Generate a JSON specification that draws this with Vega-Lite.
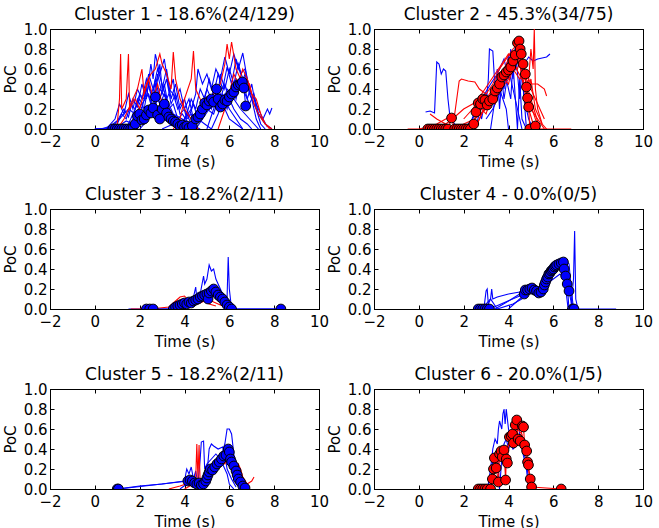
{
"$schema": "https://vega.github.io/schema/vega-lite/v6.json",
"padding": {"left": 2, "top": 5, "right": 5, "bottom": 5},
"background": "white",
"config": {
  "view": {"stroke": "black", "strokeWidth": 1},
  "title": {"font": "DejaVu Sans", "fontSize": 17, "fontWeight": "normal", "color": "black", "offset": -2, "anchor": "middle"},
  "axis": {"domainColor": "black", "tickColor": "black", "labelColor": "black", "titleColor": "black", "labelFont": "DejaVu Sans", "titleFont": "DejaVu Sans", "labelFontSize": 15, "titleFontSize": 15, "titleFontWeight": "normal", "tickSize": -4, "grid": false, "labelFlush": false, "labelOverlap": false},
  "axisX": {"labelPadding": 9, "titlePadding": 5},
  "axisY": {"labelPadding": 7, "titlePadding": 5}
},
"datasets": {
"L": [
{"g":1,"s":"a","c":"b","t":0.0,"p":0.0},{"g":1,"s":"a","c":"b","t":0.5,"p":0.0},{"g":1,"s":"a","c":"b","t":0.8,"p":0.02},{"g":1,"s":"a","c":"b","t":1.0,"p":0.05},{"g":1,"s":"a","c":"b","t":1.2,"p":0.15},{"g":1,"s":"a","c":"b","t":1.4,"p":0.1},{"g":1,"s":"a","c":"b","t":1.6,"p":0.25},{"g":1,"s":"a","c":"b","t":1.8,"p":0.2},{"g":1,"s":"a","c":"b","t":2.0,"p":0.35},{"g":1,"s":"a","c":"b","t":2.2,"p":0.3},{"g":1,"s":"a","c":"b","t":2.4,"p":0.55},{"g":1,"s":"a","c":"b","t":2.6,"p":0.4},{"g":1,"s":"a","c":"b","t":2.8,"p":0.6},{"g":1,"s":"a","c":"b","t":3.0,"p":0.45},{"g":1,"s":"a","c":"b","t":3.2,"p":0.3},{"g":1,"s":"a","c":"b","t":3.4,"p":0.15},{"g":1,"s":"a","c":"b","t":3.6,"p":0.1},{"g":1,"s":"a","c":"b","t":3.8,"p":0.05},{"g":1,"s":"a","c":"b","t":4.0,"p":0.0},
{"g":1,"s":"b","c":"b","t":0.7,"p":0.0},{"g":1,"s":"b","c":"b","t":1.0,"p":0.08},{"g":1,"s":"b","c":"b","t":1.3,"p":0.2},{"g":1,"s":"b","c":"b","t":1.5,"p":0.12},{"g":1,"s":"b","c":"b","t":1.7,"p":0.3},{"g":1,"s":"b","c":"b","t":1.9,"p":0.22},{"g":1,"s":"b","c":"b","t":2.1,"p":0.45},{"g":1,"s":"b","c":"b","t":2.3,"p":0.3},{"g":1,"s":"b","c":"b","t":2.5,"p":0.65},{"g":1,"s":"b","c":"b","t":2.6,"p":0.5},{"g":1,"s":"b","c":"b","t":2.7,"p":0.75},{"g":1,"s":"b","c":"b","t":2.9,"p":0.55},{"g":1,"s":"b","c":"b","t":3.1,"p":0.7},{"g":1,"s":"b","c":"b","t":3.3,"p":0.4},{"g":1,"s":"b","c":"b","t":3.5,"p":0.35},{"g":1,"s":"b","c":"b","t":3.7,"p":0.2},{"g":1,"s":"b","c":"b","t":3.9,"p":0.28},{"g":1,"s":"b","c":"b","t":4.1,"p":0.1},{"g":1,"s":"b","c":"b","t":4.3,"p":0.15},{"g":1,"s":"b","c":"b","t":4.5,"p":0.02},{"g":1,"s":"b","c":"b","t":4.7,"p":0.0},
{"g":1,"s":"c","c":"b","t":3.0,"p":0.0},{"g":1,"s":"c","c":"b","t":3.5,"p":0.05},{"g":1,"s":"c","c":"b","t":4.0,"p":0.1},{"g":1,"s":"c","c":"b","t":4.3,"p":0.2},{"g":1,"s":"c","c":"b","t":4.5,"p":0.35},{"g":1,"s":"c","c":"b","t":4.6,"p":0.6},{"g":1,"s":"c","c":"b","t":4.8,"p":0.45},{"g":1,"s":"c","c":"b","t":5.0,"p":0.55},{"g":1,"s":"c","c":"b","t":5.2,"p":0.4},{"g":1,"s":"c","c":"b","t":5.4,"p":0.6},{"g":1,"s":"c","c":"b","t":5.6,"p":0.5},{"g":1,"s":"c","c":"b","t":5.8,"p":0.72},{"g":1,"s":"c","c":"b","t":6.0,"p":0.55},{"g":1,"s":"c","c":"b","t":6.2,"p":0.75},{"g":1,"s":"c","c":"b","t":6.4,"p":0.6},{"g":1,"s":"c","c":"b","t":6.6,"p":0.76},{"g":1,"s":"c","c":"b","t":6.8,"p":0.5},{"g":1,"s":"c","c":"b","t":7.0,"p":0.3},{"g":1,"s":"c","c":"b","t":7.2,"p":0.1},{"g":1,"s":"c","c":"b","t":7.4,"p":0.0},
{"g":1,"s":"d","c":"b","t":4.5,"p":0.0},{"g":1,"s":"d","c":"b","t":4.8,"p":0.1},{"g":1,"s":"d","c":"b","t":5.0,"p":0.2},{"g":1,"s":"d","c":"b","t":5.3,"p":0.15},{"g":1,"s":"d","c":"b","t":5.5,"p":0.3},{"g":1,"s":"d","c":"b","t":5.7,"p":0.25},{"g":1,"s":"d","c":"b","t":5.9,"p":0.4},{"g":1,"s":"d","c":"b","t":6.1,"p":0.35},{"g":1,"s":"d","c":"b","t":6.3,"p":0.5},{"g":1,"s":"d","c":"b","t":6.5,"p":0.42},{"g":1,"s":"d","c":"b","t":6.7,"p":0.55},{"g":1,"s":"d","c":"b","t":6.9,"p":0.35},{"g":1,"s":"d","c":"b","t":7.1,"p":0.25},{"g":1,"s":"d","c":"b","t":7.3,"p":0.15},{"g":1,"s":"d","c":"b","t":7.5,"p":0.1},{"g":1,"s":"d","c":"b","t":7.7,"p":0.2},{"g":1,"s":"d","c":"b","t":7.8,"p":0.15},{"g":1,"s":"d","c":"b","t":7.9,"p":0.21},
{"g":1,"s":"e","c":"b","t":1.2,"p":0.0},{"g":1,"s":"e","c":"b","t":1.5,"p":0.05},{"g":1,"s":"e","c":"b","t":1.8,"p":0.1},{"g":1,"s":"e","c":"b","t":2.0,"p":0.05},{"g":1,"s":"e","c":"b","t":2.3,"p":0.2},{"g":1,"s":"e","c":"b","t":2.5,"p":0.15},{"g":1,"s":"e","c":"b","t":2.8,"p":0.3},{"g":1,"s":"e","c":"b","t":3.0,"p":0.2},{"g":1,"s":"e","c":"b","t":3.3,"p":0.35},{"g":1,"s":"e","c":"b","t":3.5,"p":0.5},{"g":1,"s":"e","c":"b","t":3.6,"p":0.3},{"g":1,"s":"e","c":"b","t":3.8,"p":0.4},{"g":1,"s":"e","c":"b","t":4.0,"p":0.2},{"g":1,"s":"e","c":"b","t":4.2,"p":0.3},{"g":1,"s":"e","c":"b","t":4.4,"p":0.1},{"g":1,"s":"e","c":"b","t":4.6,"p":0.2},{"g":1,"s":"e","c":"b","t":4.8,"p":0.15},{"g":1,"s":"e","c":"b","t":5.0,"p":0.3},{"g":1,"s":"e","c":"b","t":5.2,"p":0.2},{"g":1,"s":"e","c":"b","t":5.4,"p":0.35},{"g":1,"s":"e","c":"b","t":5.6,"p":0.3},{"g":1,"s":"e","c":"b","t":5.8,"p":0.45},{"g":1,"s":"e","c":"b","t":6.0,"p":0.3},{"g":1,"s":"e","c":"b","t":6.2,"p":0.2},{"g":1,"s":"e","c":"b","t":6.5,"p":0.1},{"g":1,"s":"e","c":"b","t":6.8,"p":0.05},{"g":1,"s":"e","c":"b","t":7.0,"p":0.0},
{"g":1,"s":"f","c":"b","t":0.0,"p":0.0},{"g":1,"s":"f","c":"b","t":0.6,"p":0.01},{"g":1,"s":"f","c":"b","t":1.0,"p":0.02},{"g":1,"s":"f","c":"b","t":1.4,"p":0.08},{"g":1,"s":"f","c":"b","t":1.7,"p":0.05},{"g":1,"s":"f","c":"b","t":2.0,"p":0.12},{"g":1,"s":"f","c":"b","t":2.2,"p":0.08},{"g":1,"s":"f","c":"b","t":2.5,"p":0.18},{"g":1,"s":"f","c":"b","t":2.8,"p":0.12},{"g":1,"s":"f","c":"b","t":3.0,"p":0.25},{"g":1,"s":"f","c":"b","t":3.3,"p":0.15},{"g":1,"s":"f","c":"b","t":3.6,"p":0.08},{"g":1,"s":"f","c":"b","t":4.0,"p":0.05},{"g":1,"s":"f","c":"b","t":4.3,"p":0.0},
{"g":1,"s":"g","c":"b","t":2.0,"p":0.0},{"g":1,"s":"g","c":"b","t":2.4,"p":0.1},{"g":1,"s":"g","c":"b","t":2.7,"p":0.35},{"g":1,"s":"g","c":"b","t":2.9,"p":0.65},{"g":1,"s":"g","c":"b","t":3.0,"p":0.4},{"g":1,"s":"g","c":"b","t":3.2,"p":0.6},{"g":1,"s":"g","c":"b","t":3.4,"p":0.3},{"g":1,"s":"g","c":"b","t":3.6,"p":0.45},{"g":1,"s":"g","c":"b","t":3.8,"p":0.2},{"g":1,"s":"g","c":"b","t":4.0,"p":0.3},{"g":1,"s":"g","c":"b","t":4.2,"p":0.12},{"g":1,"s":"g","c":"b","t":4.4,"p":0.25},{"g":1,"s":"g","c":"b","t":4.6,"p":0.1},{"g":1,"s":"g","c":"b","t":4.9,"p":0.05},{"g":1,"s":"g","c":"b","t":5.2,"p":0.0},
{"g":1,"s":"h","c":"b","t":5.0,"p":0.0},{"g":1,"s":"h","c":"b","t":5.3,"p":0.2},{"g":1,"s":"h","c":"b","t":5.5,"p":0.35},{"g":1,"s":"h","c":"b","t":5.6,"p":0.55},{"g":1,"s":"h","c":"b","t":5.8,"p":0.4},{"g":1,"s":"h","c":"b","t":6.0,"p":0.6},{"g":1,"s":"h","c":"b","t":6.2,"p":0.45},{"g":1,"s":"h","c":"b","t":6.4,"p":0.65},{"g":1,"s":"h","c":"b","t":6.6,"p":0.5},{"g":1,"s":"h","c":"b","t":6.8,"p":0.3},{"g":1,"s":"h","c":"b","t":7.0,"p":0.45},{"g":1,"s":"h","c":"b","t":7.2,"p":0.2},{"g":1,"s":"h","c":"b","t":7.4,"p":0.05},{"g":1,"s":"h","c":"b","t":7.6,"p":0.0},
{"g":1,"s":"i","c":"b","t":1.6,"p":0.0},{"g":1,"s":"i","c":"b","t":1.9,"p":0.3},{"g":1,"s":"i","c":"b","t":2.1,"p":0.2},{"g":1,"s":"i","c":"b","t":2.3,"p":0.4},{"g":1,"s":"i","c":"b","t":2.5,"p":0.25},{"g":1,"s":"i","c":"b","t":2.7,"p":0.5},{"g":1,"s":"i","c":"b","t":2.9,"p":0.3},{"g":1,"s":"i","c":"b","t":3.1,"p":0.45},{"g":1,"s":"i","c":"b","t":3.3,"p":0.2},{"g":1,"s":"i","c":"b","t":3.5,"p":0.25},{"g":1,"s":"i","c":"b","t":3.7,"p":0.1},{"g":1,"s":"i","c":"b","t":3.9,"p":0.15},{"g":1,"s":"i","c":"b","t":4.2,"p":0.05},{"g":1,"s":"i","c":"b","t":4.5,"p":0.1},{"g":1,"s":"i","c":"b","t":4.8,"p":0.25},{"g":1,"s":"i","c":"b","t":5.0,"p":0.4},{"g":1,"s":"i","c":"b","t":5.2,"p":0.3},{"g":1,"s":"i","c":"b","t":5.4,"p":0.45},{"g":1,"s":"i","c":"b","t":5.6,"p":0.35},{"g":1,"s":"i","c":"b","t":5.8,"p":0.2},{"g":1,"s":"i","c":"b","t":6.0,"p":0.1},{"g":1,"s":"i","c":"b","t":6.3,"p":0.05},{"g":1,"s":"i","c":"b","t":6.6,"p":0.0},
{"g":1,"s":"j","c":"b","t":0.5,"p":0.0},{"g":1,"s":"j","c":"b","t":0.9,"p":0.1},{"g":1,"s":"j","c":"b","t":1.1,"p":0.25},{"g":1,"s":"j","c":"b","t":1.3,"p":0.15},{"g":1,"s":"j","c":"b","t":1.5,"p":0.35},{"g":1,"s":"j","c":"b","t":1.7,"p":0.2},{"g":1,"s":"j","c":"b","t":1.9,"p":0.4},{"g":1,"s":"j","c":"b","t":2.1,"p":0.3},{"g":1,"s":"j","c":"b","t":2.3,"p":0.5},{"g":1,"s":"j","c":"b","t":2.5,"p":0.35},{"g":1,"s":"j","c":"b","t":2.7,"p":0.45},{"g":1,"s":"j","c":"b","t":2.9,"p":0.25},{"g":1,"s":"j","c":"b","t":3.1,"p":0.35},{"g":1,"s":"j","c":"b","t":3.3,"p":0.2},{"g":1,"s":"j","c":"b","t":3.6,"p":0.1},{"g":1,"s":"j","c":"b","t":4.0,"p":0.02},
{"g":1,"s":"k","c":"b","t":3.8,"p":0.0},{"g":1,"s":"k","c":"b","t":4.1,"p":0.15},{"g":1,"s":"k","c":"b","t":4.3,"p":0.3},{"g":1,"s":"k","c":"b","t":4.5,"p":0.2},{"g":1,"s":"k","c":"b","t":4.7,"p":0.4},{"g":1,"s":"k","c":"b","t":4.9,"p":0.3},{"g":1,"s":"k","c":"b","t":5.1,"p":0.5},{"g":1,"s":"k","c":"b","t":5.3,"p":0.35},{"g":1,"s":"k","c":"b","t":5.5,"p":0.55},{"g":1,"s":"k","c":"b","t":5.7,"p":0.4},{"g":1,"s":"k","c":"b","t":5.9,"p":0.62},{"g":1,"s":"k","c":"b","t":6.1,"p":0.45},{"g":1,"s":"k","c":"b","t":6.3,"p":0.7},{"g":1,"s":"k","c":"b","t":6.5,"p":0.55},{"g":1,"s":"k","c":"b","t":6.7,"p":0.6},{"g":1,"s":"k","c":"b","t":6.9,"p":0.4},{"g":1,"s":"k","c":"b","t":7.1,"p":0.3},{"g":1,"s":"k","c":"b","t":7.3,"p":0.2},{"g":1,"s":"k","c":"b","t":7.5,"p":0.1},{"g":1,"s":"k","c":"b","t":7.7,"p":0.02},
{"g":1,"s":"l","c":"b","t":1.4,"p":0.0},{"g":1,"s":"l","c":"b","t":1.7,"p":0.15},{"g":1,"s":"l","c":"b","t":2.0,"p":0.3},{"g":1,"s":"l","c":"b","t":2.2,"p":0.2},{"g":1,"s":"l","c":"b","t":2.4,"p":0.45},{"g":1,"s":"l","c":"b","t":2.6,"p":0.3},{"g":1,"s":"l","c":"b","t":2.8,"p":0.55},{"g":1,"s":"l","c":"b","t":3.0,"p":0.35},{"g":1,"s":"l","c":"b","t":3.2,"p":0.5},{"g":1,"s":"l","c":"b","t":3.4,"p":0.25},{"g":1,"s":"l","c":"b","t":3.6,"p":0.35},{"g":1,"s":"l","c":"b","t":3.8,"p":0.15},{"g":1,"s":"l","c":"b","t":4.0,"p":0.2},{"g":1,"s":"l","c":"b","t":4.3,"p":0.05},{"g":1,"s":"l","c":"b","t":4.6,"p":0.15},{"g":1,"s":"l","c":"b","t":4.9,"p":0.3},{"g":1,"s":"l","c":"b","t":5.1,"p":0.2},{"g":1,"s":"l","c":"b","t":5.3,"p":0.4},{"g":1,"s":"l","c":"b","t":5.5,"p":0.25},{"g":1,"s":"l","c":"b","t":5.7,"p":0.35},{"g":1,"s":"l","c":"b","t":6.0,"p":0.2},{"g":1,"s":"l","c":"b","t":6.3,"p":0.1},{"g":1,"s":"l","c":"b","t":6.6,"p":0.0},
{"g":1,"s":"m","c":"b","t":5.2,"p":0.0},{"g":1,"s":"m","c":"b","t":5.5,"p":0.15},{"g":1,"s":"m","c":"b","t":5.7,"p":0.3},{"g":1,"s":"m","c":"b","t":5.9,"p":0.2},{"g":1,"s":"m","c":"b","t":6.1,"p":0.45},{"g":1,"s":"m","c":"b","t":6.3,"p":0.3},{"g":1,"s":"m","c":"b","t":6.5,"p":0.5},{"g":1,"s":"m","c":"b","t":6.7,"p":0.35},{"g":1,"s":"m","c":"b","t":6.9,"p":0.25},{"g":1,"s":"m","c":"b","t":7.1,"p":0.35},{"g":1,"s":"m","c":"b","t":7.3,"p":0.15},{"g":1,"s":"m","c":"b","t":7.6,"p":0.05},{"g":1,"s":"m","c":"b","t":7.9,"p":0.0},
{"g":1,"s":"n","c":"b","t":0.0,"p":0.0},{"g":1,"s":"n","c":"b","t":0.3,"p":0.0},{"g":1,"s":"n","c":"b","t":0.7,"p":0.03},{"g":1,"s":"n","c":"b","t":1.1,"p":0.1},{"g":1,"s":"n","c":"b","t":1.5,"p":0.2},{"g":1,"s":"n","c":"b","t":1.8,"p":0.15},{"g":1,"s":"n","c":"b","t":2.1,"p":0.25},{"g":1,"s":"n","c":"b","t":2.4,"p":0.35},{"g":1,"s":"n","c":"b","t":2.6,"p":0.2},{"g":1,"s":"n","c":"b","t":2.9,"p":0.4},{"g":1,"s":"n","c":"b","t":3.2,"p":0.3},{"g":1,"s":"n","c":"b","t":3.5,"p":0.15},{"g":1,"s":"n","c":"b","t":3.9,"p":0.1},{"g":1,"s":"n","c":"b","t":4.3,"p":0.05},{"g":1,"s":"n","c":"b","t":4.8,"p":0.1},{"g":1,"s":"n","c":"b","t":5.1,"p":0.2},{"g":1,"s":"n","c":"b","t":5.4,"p":0.25},{"g":1,"s":"n","c":"b","t":5.8,"p":0.35},{"g":1,"s":"n","c":"b","t":6.2,"p":0.3},{"g":1,"s":"n","c":"b","t":6.5,"p":0.2},{"g":1,"s":"n","c":"b","t":6.9,"p":0.1},{"g":1,"s":"n","c":"b","t":7.3,"p":0.0},
{"g":1,"s":"r1","c":"r","t":0.8,"p":0.0},{"g":1,"s":"r1","c":"r","t":1.0,"p":0.05},{"g":1,"s":"r1","c":"r","t":1.1,"p":0.3},{"g":1,"s":"r1","c":"r","t":1.15,"p":0.75},{"g":1,"s":"r1","c":"r","t":1.2,"p":0.2},{"g":1,"s":"r1","c":"r","t":1.4,"p":0.3},{"g":1,"s":"r1","c":"r","t":1.5,"p":0.75},{"g":1,"s":"r1","c":"r","t":1.55,"p":0.2},{"g":1,"s":"r1","c":"r","t":1.8,"p":0.3},{"g":1,"s":"r1","c":"r","t":2.0,"p":0.2},{"g":1,"s":"r1","c":"r","t":2.3,"p":0.45},{"g":1,"s":"r1","c":"r","t":2.5,"p":0.55},{"g":1,"s":"r1","c":"r","t":2.7,"p":0.6},{"g":1,"s":"r1","c":"r","t":2.9,"p":0.75},{"g":1,"s":"r1","c":"r","t":3.0,"p":0.65},{"g":1,"s":"r1","c":"r","t":3.2,"p":0.55},{"g":1,"s":"r1","c":"r","t":3.4,"p":0.4},{"g":1,"s":"r1","c":"r","t":3.5,"p":0.77},{"g":1,"s":"r1","c":"r","t":3.6,"p":0.5},{"g":1,"s":"r1","c":"r","t":3.8,"p":0.3},{"g":1,"s":"r1","c":"r","t":4.0,"p":0.2},{"g":1,"s":"r1","c":"r","t":4.3,"p":0.1},{"g":1,"s":"r1","c":"r","t":4.6,"p":0.0},
{"g":1,"s":"r2","c":"r","t":3.5,"p":0.0},{"g":1,"s":"r2","c":"r","t":3.8,"p":0.1},{"g":1,"s":"r2","c":"r","t":4.0,"p":0.3},{"g":1,"s":"r2","c":"r","t":4.3,"p":0.5},{"g":1,"s":"r2","c":"r","t":4.4,"p":0.78},{"g":1,"s":"r2","c":"r","t":4.5,"p":0.4},{"g":1,"s":"r2","c":"r","t":4.7,"p":0.3},{"g":1,"s":"r2","c":"r","t":5.0,"p":0.2},{"g":1,"s":"r2","c":"r","t":5.3,"p":0.35},{"g":1,"s":"r2","c":"r","t":5.6,"p":0.45},{"g":1,"s":"r2","c":"r","t":5.8,"p":0.65},{"g":1,"s":"r2","c":"r","t":5.9,"p":0.85},{"g":1,"s":"r2","c":"r","t":6.0,"p":0.7},{"g":1,"s":"r2","c":"r","t":6.1,"p":0.87},{"g":1,"s":"r2","c":"r","t":6.3,"p":0.6},{"g":1,"s":"r2","c":"r","t":6.5,"p":0.5},{"g":1,"s":"r2","c":"r","t":6.7,"p":0.4},{"g":1,"s":"r2","c":"r","t":6.9,"p":0.45},{"g":1,"s":"r2","c":"r","t":7.1,"p":0.25},{"g":1,"s":"r2","c":"r","t":7.3,"p":0.15},{"g":1,"s":"r2","c":"r","t":7.5,"p":0.08},{"g":1,"s":"r2","c":"r","t":7.8,"p":0.0},
{"g":1,"s":"r3","c":"r","t":1.0,"p":0.0},{"g":1,"s":"r3","c":"r","t":1.3,"p":0.1},{"g":1,"s":"r3","c":"r","t":1.6,"p":0.25},{"g":1,"s":"r3","c":"r","t":1.9,"p":0.4},{"g":1,"s":"r3","c":"r","t":2.1,"p":0.6},{"g":1,"s":"r3","c":"r","t":2.2,"p":0.35},{"g":1,"s":"r3","c":"r","t":2.4,"p":0.5},{"g":1,"s":"r3","c":"r","t":2.6,"p":0.3},{"g":1,"s":"r3","c":"r","t":2.8,"p":0.45},{"g":1,"s":"r3","c":"r","t":3.0,"p":0.25},{"g":1,"s":"r3","c":"r","t":3.3,"p":0.2},{"g":1,"s":"r3","c":"r","t":3.6,"p":0.1},{"g":1,"s":"r3","c":"r","t":4.0,"p":0.05},{"g":1,"s":"r3","c":"r","t":4.4,"p":0.0},
{"g":1,"s":"r4","c":"r","t":5.5,"p":0.0},{"g":1,"s":"r4","c":"r","t":5.8,"p":0.2},{"g":1,"s":"r4","c":"r","t":6.0,"p":0.35},{"g":1,"s":"r4","c":"r","t":6.2,"p":0.55},{"g":1,"s":"r4","c":"r","t":6.4,"p":0.45},{"g":1,"s":"r4","c":"r","t":6.6,"p":0.6},{"g":1,"s":"r4","c":"r","t":6.8,"p":0.5},{"g":1,"s":"r4","c":"r","t":7.0,"p":0.35},{"g":1,"s":"r4","c":"r","t":7.2,"p":0.3},{"g":1,"s":"r4","c":"r","t":7.4,"p":0.15},{"g":1,"s":"r4","c":"r","t":7.6,"p":0.05},{"g":1,"s":"r4","c":"r","t":7.9,"p":0.0},

{"g":2,"s":"a","c":"b","t":0.3,"p":0.17},{"g":2,"s":"a","c":"b","t":0.5,"p":0.18},{"g":2,"s":"a","c":"b","t":0.7,"p":0.16},{"g":2,"s":"a","c":"b","t":0.8,"p":0.67},{"g":2,"s":"a","c":"b","t":0.9,"p":0.65},{"g":2,"s":"a","c":"b","t":1.0,"p":0.55},{"g":2,"s":"a","c":"b","t":1.1,"p":0.6},{"g":2,"s":"a","c":"b","t":1.2,"p":0.58},{"g":2,"s":"a","c":"b","t":1.3,"p":0.3},{"g":2,"s":"a","c":"b","t":1.4,"p":0.1},{"g":2,"s":"a","c":"b","t":1.6,"p":0.05},{"g":2,"s":"a","c":"b","t":1.8,"p":0.0},
{"g":2,"s":"b","c":"b","t":2.5,"p":0.0},{"g":2,"s":"b","c":"b","t":2.7,"p":0.15},{"g":2,"s":"b","c":"b","t":2.9,"p":0.3},{"g":2,"s":"b","c":"b","t":3.0,"p":0.25},{"g":2,"s":"b","c":"b","t":3.1,"p":0.5},{"g":2,"s":"b","c":"b","t":3.15,"p":0.8},{"g":2,"s":"b","c":"b","t":3.3,"p":0.78},{"g":2,"s":"b","c":"b","t":3.4,"p":0.4},{"g":2,"s":"b","c":"b","t":3.5,"p":0.6},{"g":2,"s":"b","c":"b","t":3.6,"p":0.2},{"g":2,"s":"b","c":"b","t":3.7,"p":0.5},{"g":2,"s":"b","c":"b","t":3.8,"p":0.3},{"g":2,"s":"b","c":"b","t":4.0,"p":0.6},{"g":2,"s":"b","c":"b","t":4.2,"p":0.4},{"g":2,"s":"b","c":"b","t":4.4,"p":0.2},{"g":2,"s":"b","c":"b","t":4.6,"p":0.0},
{"g":2,"s":"c","c":"b","t":4.5,"p":0.5},{"g":2,"s":"c","c":"b","t":4.7,"p":0.65},{"g":2,"s":"c","c":"b","t":4.9,"p":0.72},{"g":2,"s":"c","c":"b","t":5.1,"p":0.68},{"g":2,"s":"c","c":"b","t":5.3,"p":0.7},{"g":2,"s":"c","c":"b","t":5.5,"p":0.71},{"g":2,"s":"c","c":"b","t":5.7,"p":0.72},{"g":2,"s":"c","c":"b","t":5.85,"p":0.75},
{"g":2,"s":"d","c":"b","t":2.0,"p":0.0},{"g":2,"s":"d","c":"b","t":2.4,"p":0.1},{"g":2,"s":"d","c":"b","t":2.8,"p":0.3},{"g":2,"s":"d","c":"b","t":3.2,"p":0.45},{"g":2,"s":"d","c":"b","t":3.5,"p":0.55},{"g":2,"s":"d","c":"b","t":3.8,"p":0.7},{"g":2,"s":"d","c":"b","t":4.0,"p":0.5},{"g":2,"s":"d","c":"b","t":4.1,"p":0.8},{"g":2,"s":"d","c":"b","t":4.3,"p":0.6},{"g":2,"s":"d","c":"b","t":4.5,"p":0.75},{"g":2,"s":"d","c":"b","t":4.7,"p":0.3},{"g":2,"s":"d","c":"b","t":4.9,"p":0.1},{"g":2,"s":"d","c":"b","t":5.1,"p":0.0},
{"g":2,"s":"e","c":"b","t":3.0,"p":0.1},{"g":2,"s":"e","c":"b","t":3.3,"p":0.2},{"g":2,"s":"e","c":"b","t":3.6,"p":0.35},{"g":2,"s":"e","c":"b","t":3.9,"p":0.5},{"g":2,"s":"e","c":"b","t":4.1,"p":0.3},{"g":2,"s":"e","c":"b","t":4.2,"p":0.65},{"g":2,"s":"e","c":"b","t":4.4,"p":0.0},{"g":2,"s":"e","c":"b","t":4.5,"p":0.5},{"g":2,"s":"e","c":"b","t":4.6,"p":0.1},{"g":2,"s":"e","c":"b","t":4.8,"p":0.0},
{"g":2,"s":"f","c":"b","t":2.3,"p":0.05},{"g":2,"s":"f","c":"b","t":2.6,"p":0.25},{"g":2,"s":"f","c":"b","t":2.8,"p":0.1},{"g":2,"s":"f","c":"b","t":3.0,"p":0.35},{"g":2,"s":"f","c":"b","t":3.3,"p":0.25},{"g":2,"s":"f","c":"b","t":3.6,"p":0.4},{"g":2,"s":"f","c":"b","t":3.9,"p":0.2},{"g":2,"s":"f","c":"b","t":4.0,"p":0.0},
{"g":2,"s":"g","c":"b","t":3.2,"p":0.0},{"g":2,"s":"g","c":"b","t":3.4,"p":0.3},{"g":2,"s":"g","c":"b","t":3.6,"p":0.55},{"g":2,"s":"g","c":"b","t":3.8,"p":0.4},{"g":2,"s":"g","c":"b","t":4.0,"p":0.75},{"g":2,"s":"g","c":"b","t":4.2,"p":0.5},{"g":2,"s":"g","c":"b","t":4.3,"p":0.82},{"g":2,"s":"g","c":"b","t":4.5,"p":0.3},{"g":2,"s":"g","c":"b","t":4.6,"p":0.6},{"g":2,"s":"g","c":"b","t":4.8,"p":0.0},
{"g":2,"s":"r1","c":"r","t":-0.5,"p":0.0},{"g":2,"s":"r1","c":"r","t":0.0,"p":0.0},{"g":2,"s":"r1","c":"r","t":0.4,"p":0.02},{"g":2,"s":"r1","c":"r","t":0.8,"p":0.05},{"g":2,"s":"r1","c":"r","t":1.2,"p":0.1},{"g":2,"s":"r1","c":"r","t":1.4,"p":0.12},{"g":2,"s":"r1","c":"r","t":1.6,"p":0.15},{"g":2,"s":"r1","c":"r","t":1.8,"p":0.48},{"g":2,"s":"r1","c":"r","t":1.9,"p":0.5},{"g":2,"s":"r1","c":"r","t":2.2,"p":0.48},{"g":2,"s":"r1","c":"r","t":2.5,"p":0.47},{"g":2,"s":"r1","c":"r","t":2.7,"p":0.4},{"g":2,"s":"r1","c":"r","t":3.0,"p":0.35},{"g":2,"s":"r1","c":"r","t":3.3,"p":0.45},{"g":2,"s":"r1","c":"r","t":3.6,"p":0.6},{"g":2,"s":"r1","c":"r","t":3.9,"p":0.7},{"g":2,"s":"r1","c":"r","t":4.2,"p":0.8},{"g":2,"s":"r1","c":"r","t":4.4,"p":0.85},{"g":2,"s":"r1","c":"r","t":4.6,"p":0.7},{"g":2,"s":"r1","c":"r","t":4.8,"p":0.5},{"g":2,"s":"r1","c":"r","t":5.0,"p":0.4},{"g":2,"s":"r1","c":"r","t":5.2,"p":0.3},{"g":2,"s":"r1","c":"r","t":5.4,"p":0.2},{"g":2,"s":"r1","c":"r","t":5.6,"p":0.1},
{"g":2,"s":"r2","c":"r","t":0.5,"p":0.15},{"g":2,"s":"r2","c":"r","t":0.8,"p":0.1},{"g":2,"s":"r2","c":"r","t":1.2,"p":0.05},{"g":2,"s":"r2","c":"r","t":1.5,"p":0.1},{"g":2,"s":"r2","c":"r","t":2.0,"p":0.2},{"g":2,"s":"r2","c":"r","t":2.4,"p":0.25},{"g":2,"s":"r2","c":"r","t":2.8,"p":0.35},{"g":2,"s":"r2","c":"r","t":3.1,"p":0.45},{"g":2,"s":"r2","c":"r","t":3.4,"p":0.55},{"g":2,"s":"r2","c":"r","t":3.7,"p":0.65},{"g":2,"s":"r2","c":"r","t":4.0,"p":0.75},{"g":2,"s":"r2","c":"r","t":4.2,"p":0.7},{"g":2,"s":"r2","c":"r","t":4.4,"p":0.8},{"g":2,"s":"r2","c":"r","t":4.6,"p":0.6},{"g":2,"s":"r2","c":"r","t":4.8,"p":0.45},{"g":2,"s":"r2","c":"r","t":5.0,"p":0.3},{"g":2,"s":"r2","c":"r","t":5.2,"p":0.15},{"g":2,"s":"r2","c":"r","t":5.4,"p":0.0},
{"g":2,"s":"r3","c":"r","t":2.0,"p":0.1},{"g":2,"s":"r3","c":"r","t":2.4,"p":0.2},{"g":2,"s":"r3","c":"r","t":2.7,"p":0.3},{"g":2,"s":"r3","c":"r","t":3.0,"p":0.3},{"g":2,"s":"r3","c":"r","t":3.3,"p":0.4},{"g":2,"s":"r3","c":"r","t":3.6,"p":0.5},{"g":2,"s":"r3","c":"r","t":3.9,"p":0.55},{"g":2,"s":"r3","c":"r","t":4.2,"p":0.6},{"g":2,"s":"r3","c":"r","t":4.5,"p":0.5},{"g":2,"s":"r3","c":"r","t":4.8,"p":0.55},{"g":2,"s":"r3","c":"r","t":5.0,"p":0.45},{"g":2,"s":"r3","c":"r","t":5.3,"p":0.45},{"g":2,"s":"r3","c":"r","t":5.6,"p":0.4},{"g":2,"s":"r3","c":"r","t":5.7,"p":0.33},
{"g":2,"s":"r4","c":"r","t":4.7,"p":0.2},{"g":2,"s":"r4","c":"r","t":4.9,"p":0.5},{"g":2,"s":"r4","c":"r","t":5.0,"p":0.8},{"g":2,"s":"r4","c":"r","t":5.1,"p":0.6},{"g":2,"s":"r4","c":"r","t":5.15,"p":1.0},{"g":2,"s":"r4","c":"r","t":5.2,"p":0.4},{"g":2,"s":"r4","c":"r","t":5.3,"p":0.2},{"g":2,"s":"r4","c":"r","t":5.5,"p":0.05},{"g":2,"s":"r4","c":"r","t":5.7,"p":0.0},
{"g":2,"s":"r5","c":"r","t":2.5,"p":0.0},{"g":2,"s":"r5","c":"r","t":2.8,"p":0.15},{"g":2,"s":"r5","c":"r","t":3.1,"p":0.25},{"g":2,"s":"r5","c":"r","t":3.4,"p":0.35},{"g":2,"s":"r5","c":"r","t":3.7,"p":0.45},{"g":2,"s":"r5","c":"r","t":4.0,"p":0.6},{"g":2,"s":"r5","c":"r","t":4.3,"p":0.72},{"g":2,"s":"r5","c":"r","t":4.5,"p":0.65},{"g":2,"s":"r5","c":"r","t":4.7,"p":0.4},{"g":2,"s":"r5","c":"r","t":4.9,"p":0.2},{"g":2,"s":"r5","c":"r","t":5.1,"p":0.05},{"g":2,"s":"r5","c":"r","t":5.3,"p":0.0},
{"g":2,"s":"r6","c":"r","t":1.0,"p":0.0},{"g":2,"s":"r6","c":"r","t":1.5,"p":0.0},{"g":2,"s":"r6","c":"r","t":2.0,"p":0.05},{"g":2,"s":"r6","c":"r","t":2.5,"p":0.1},{"g":2,"s":"r6","c":"r","t":3.0,"p":0.2},{"g":2,"s":"r6","c":"r","t":3.5,"p":0.35},{"g":2,"s":"r6","c":"r","t":4.0,"p":0.5},{"g":2,"s":"r6","c":"r","t":4.3,"p":0.62},{"g":2,"s":"r6","c":"r","t":4.6,"p":0.5},{"g":2,"s":"r6","c":"r","t":4.9,"p":0.3},{"g":2,"s":"r6","c":"r","t":5.2,"p":0.1},{"g":2,"s":"r6","c":"r","t":5.4,"p":0.0},{"g":2,"s":"r6","c":"r","t":6.0,"p":0.0},{"g":2,"s":"r6","c":"r","t":6.8,"p":0.0},
{"g":2,"s":"r7","c":"r","t":2.2,"p":0.0},{"g":2,"s":"r7","c":"r","t":2.5,"p":0.1},{"g":2,"s":"r7","c":"r","t":2.8,"p":0.2},{"g":2,"s":"r7","c":"r","t":3.0,"p":0.15},{"g":2,"s":"r7","c":"r","t":3.2,"p":0.3},{"g":2,"s":"r7","c":"r","t":3.4,"p":0.25},{"g":2,"s":"r7","c":"r","t":3.6,"p":0.4},{"g":2,"s":"r7","c":"r","t":3.8,"p":0.5},{"g":2,"s":"r7","c":"r","t":4.0,"p":0.45},{"g":2,"s":"r7","c":"r","t":4.2,"p":0.65},{"g":2,"s":"r7","c":"r","t":4.4,"p":0.6},{"g":2,"s":"r7","c":"r","t":4.6,"p":0.75},{"g":2,"s":"r7","c":"r","t":4.8,"p":0.4},{"g":2,"s":"r7","c":"r","t":5.0,"p":0.2},{"g":2,"s":"r7","c":"r","t":5.3,"p":0.1},{"g":2,"s":"r7","c":"r","t":5.6,"p":0.0},
{"g":2,"s":"r8","c":"r","t":2.6,"p":0.05},{"g":2,"s":"r8","c":"r","t":2.9,"p":0.2},{"g":2,"s":"r8","c":"r","t":3.2,"p":0.35},{"g":2,"s":"r8","c":"r","t":3.5,"p":0.5},{"g":2,"s":"r8","c":"r","t":3.8,"p":0.6},{"g":2,"s":"r8","c":"r","t":4.0,"p":0.7},{"g":2,"s":"r8","c":"r","t":4.2,"p":0.65},{"g":2,"s":"r8","c":"r","t":4.4,"p":0.75},{"g":2,"s":"r8","c":"r","t":4.6,"p":0.55},{"g":2,"s":"r8","c":"r","t":4.8,"p":0.35},{"g":2,"s":"r8","c":"r","t":5.0,"p":0.5},{"g":2,"s":"r8","c":"r","t":5.2,"p":0.2},{"g":2,"s":"r8","c":"r","t":5.5,"p":0.05},

{"g":3,"s":"a","c":"b","t":1.5,"p":0.0},{"g":3,"s":"a","c":"b","t":2.4,"p":0.0},{"g":3,"s":"a","c":"b","t":3.3,"p":0.0},{"g":3,"s":"a","c":"b","t":3.6,"p":0.05},{"g":3,"s":"a","c":"b","t":3.9,"p":0.1},{"g":3,"s":"a","c":"b","t":4.2,"p":0.08},{"g":3,"s":"a","c":"b","t":4.4,"p":0.12},{"g":3,"s":"a","c":"b","t":4.5,"p":0.22},{"g":3,"s":"a","c":"b","t":4.55,"p":0.1},{"g":3,"s":"a","c":"b","t":4.7,"p":0.15},{"g":3,"s":"a","c":"b","t":4.85,"p":0.33},{"g":3,"s":"a","c":"b","t":4.9,"p":0.25},{"g":3,"s":"a","c":"b","t":5.0,"p":0.3},{"g":3,"s":"a","c":"b","t":5.1,"p":0.44},{"g":3,"s":"a","c":"b","t":5.2,"p":0.38},{"g":3,"s":"a","c":"b","t":5.3,"p":0.4},{"g":3,"s":"a","c":"b","t":5.4,"p":0.3},{"g":3,"s":"a","c":"b","t":5.6,"p":0.2},{"g":3,"s":"a","c":"b","t":5.8,"p":0.1},{"g":3,"s":"a","c":"b","t":5.9,"p":0.12},{"g":3,"s":"a","c":"b","t":5.95,"p":0.52},{"g":3,"s":"a","c":"b","t":6.0,"p":0.2},{"g":3,"s":"a","c":"b","t":6.1,"p":0.0},{"g":3,"s":"a","c":"b","t":6.3,"p":0.0},
{"g":3,"s":"b","c":"b","t":3.5,"p":0.0},{"g":3,"s":"b","c":"b","t":3.8,"p":0.05},{"g":3,"s":"b","c":"b","t":4.0,"p":0.1},{"g":3,"s":"b","c":"b","t":4.3,"p":0.08},{"g":3,"s":"b","c":"b","t":4.6,"p":0.12},{"g":3,"s":"b","c":"b","t":4.9,"p":0.15},{"g":3,"s":"b","c":"b","t":5.2,"p":0.2},{"g":3,"s":"b","c":"b","t":5.4,"p":0.15},{"g":3,"s":"b","c":"b","t":5.7,"p":0.08},{"g":3,"s":"b","c":"b","t":6.0,"p":0.02},{"g":3,"s":"b","c":"b","t":6.3,"p":0.0},
{"g":3,"s":"c","c":"b","t":6.0,"p":0.0},{"g":3,"s":"c","c":"b","t":7.0,"p":0.0},{"g":3,"s":"c","c":"b","t":8.0,"p":0.0},{"g":3,"s":"c","c":"b","t":8.3,"p":0.0},
{"g":3,"s":"r1","c":"r","t":1.6,"p":0.0},{"g":3,"s":"r1","c":"r","t":2.5,"p":0.0},{"g":3,"s":"r1","c":"r","t":3.3,"p":0.02},{"g":3,"s":"r1","c":"r","t":3.6,"p":0.08},{"g":3,"s":"r1","c":"r","t":3.8,"p":0.12},{"g":3,"s":"r1","c":"r","t":4.0,"p":0.13},{"g":3,"s":"r1","c":"r","t":4.2,"p":0.08},{"g":3,"s":"r1","c":"r","t":4.5,"p":0.1},{"g":3,"s":"r1","c":"r","t":4.8,"p":0.12},{"g":3,"s":"r1","c":"r","t":5.0,"p":0.1},{"g":3,"s":"r1","c":"r","t":5.2,"p":0.08},{"g":3,"s":"r1","c":"r","t":5.5,"p":0.05},{"g":3,"s":"r1","c":"r","t":5.8,"p":0.02},{"g":3,"s":"r1","c":"r","t":6.0,"p":0.0},
{"g":3,"s":"r2","c":"r","t":3.8,"p":0.05},{"g":3,"s":"r2","c":"r","t":4.2,"p":0.1},{"g":3,"s":"r2","c":"r","t":4.6,"p":0.05},{"g":3,"s":"r2","c":"r","t":4.9,"p":0.08},{"g":3,"s":"r2","c":"r","t":5.1,"p":0.05},{"g":3,"s":"r2","c":"r","t":5.4,"p":0.03},

{"g":4,"s":"a","c":"b","t":2.6,"p":0.0},{"g":4,"s":"a","c":"b","t":2.9,"p":0.0},{"g":4,"s":"a","c":"b","t":3.0,"p":0.18},{"g":4,"s":"a","c":"b","t":3.05,"p":0.2},{"g":4,"s":"a","c":"b","t":3.1,"p":0.05},{"g":4,"s":"a","c":"b","t":3.3,"p":0.0},
{"g":4,"s":"b","c":"b","t":3.0,"p":0.0},{"g":4,"s":"b","c":"b","t":3.2,"p":0.1},{"g":4,"s":"b","c":"b","t":3.25,"p":0.2},{"g":4,"s":"b","c":"b","t":3.3,"p":0.1},{"g":4,"s":"b","c":"b","t":3.5,"p":0.12},{"g":4,"s":"b","c":"b","t":4.0,"p":0.15},{"g":4,"s":"b","c":"b","t":4.5,"p":0.17},{"g":4,"s":"b","c":"b","t":4.7,"p":0.2},{"g":4,"s":"b","c":"b","t":5.0,"p":0.2},{"g":4,"s":"b","c":"b","t":5.3,"p":0.18},{"g":4,"s":"b","c":"b","t":5.5,"p":0.2},{"g":4,"s":"b","c":"b","t":5.8,"p":0.3},{"g":4,"s":"b","c":"b","t":6.0,"p":0.35},{"g":4,"s":"b","c":"b","t":6.2,"p":0.4},{"g":4,"s":"b","c":"b","t":6.4,"p":0.45},{"g":4,"s":"b","c":"b","t":6.6,"p":0.3},{"g":4,"s":"b","c":"b","t":6.7,"p":0.0},{"g":4,"s":"b","c":"b","t":6.8,"p":0.05},{"g":4,"s":"b","c":"b","t":6.9,"p":0.3},{"g":4,"s":"b","c":"b","t":6.95,"p":0.78},{"g":4,"s":"b","c":"b","t":7.0,"p":0.1},{"g":4,"s":"b","c":"b","t":7.1,"p":0.0},{"g":4,"s":"b","c":"b","t":8.8,"p":0.0},
{"g":4,"s":"c","c":"b","t":3.4,"p":0.0},{"g":4,"s":"c","c":"b","t":4.0,"p":0.08},{"g":4,"s":"c","c":"b","t":4.5,"p":0.15},{"g":4,"s":"c","c":"b","t":4.8,"p":0.22},{"g":4,"s":"c","c":"b","t":5.1,"p":0.2},{"g":4,"s":"c","c":"b","t":5.4,"p":0.17},{"g":4,"s":"c","c":"b","t":5.7,"p":0.28},{"g":4,"s":"c","c":"b","t":6.0,"p":0.4},{"g":4,"s":"c","c":"b","t":6.2,"p":0.43},{"g":4,"s":"c","c":"b","t":6.4,"p":0.45},{"g":4,"s":"c","c":"b","t":6.6,"p":0.45},{"g":4,"s":"c","c":"b","t":6.8,"p":0.1},{"g":4,"s":"c","c":"b","t":6.9,"p":0.0},
{"g":4,"s":"d","c":"b","t":4.0,"p":0.0},{"g":4,"s":"d","c":"b","t":4.6,"p":0.12},{"g":4,"s":"d","c":"b","t":5.0,"p":0.22},{"g":4,"s":"d","c":"b","t":5.5,"p":0.18},{"g":4,"s":"d","c":"b","t":5.8,"p":0.32},{"g":4,"s":"d","c":"b","t":6.1,"p":0.42},{"g":4,"s":"d","c":"b","t":6.3,"p":0.4},{"g":4,"s":"d","c":"b","t":6.5,"p":0.5},{"g":4,"s":"d","c":"b","t":6.7,"p":0.45},{"g":4,"s":"d","c":"b","t":6.8,"p":0.2},{"g":4,"s":"d","c":"b","t":6.9,"p":0.0},
{"g":4,"s":"e","c":"b","t":2.8,"p":0.0},{"g":4,"s":"e","c":"b","t":3.2,"p":0.1},{"g":4,"s":"e","c":"b","t":3.5,"p":0.0},{"g":4,"s":"e","c":"b","t":4.2,"p":0.05},{"g":4,"s":"e","c":"b","t":4.6,"p":0.1},{"g":4,"s":"e","c":"b","t":4.7,"p":0.2},{"g":4,"s":"e","c":"b","t":5.0,"p":0.18},{"g":4,"s":"e","c":"b","t":5.4,"p":0.15},{"g":4,"s":"e","c":"b","t":5.7,"p":0.25},{"g":4,"s":"e","c":"b","t":6.0,"p":0.3},{"g":4,"s":"e","c":"b","t":6.3,"p":0.35},{"g":4,"s":"e","c":"b","t":6.5,"p":0.3},{"g":4,"s":"e","c":"b","t":6.65,"p":0.02},

{"g":5,"s":"a","c":"b","t":1.0,"p":0.0},{"g":5,"s":"a","c":"b","t":2.0,"p":0.03},{"g":5,"s":"a","c":"b","t":3.0,"p":0.05},{"g":5,"s":"a","c":"b","t":4.0,"p":0.08},{"g":5,"s":"a","c":"b","t":4.1,"p":0.2},{"g":5,"s":"a","c":"b","t":4.2,"p":0.15},{"g":5,"s":"a","c":"b","t":4.3,"p":0.22},{"g":5,"s":"a","c":"b","t":4.4,"p":0.1},{"g":5,"s":"a","c":"b","t":4.5,"p":0.18},{"g":5,"s":"a","c":"b","t":4.6,"p":0.05},{"g":5,"s":"a","c":"b","t":4.7,"p":0.3},{"g":5,"s":"a","c":"b","t":4.75,"p":0.47},{"g":5,"s":"a","c":"b","t":4.85,"p":0.48},{"g":5,"s":"a","c":"b","t":4.9,"p":0.2},{"g":5,"s":"a","c":"b","t":5.0,"p":0.25},{"g":5,"s":"a","c":"b","t":5.2,"p":0.3},{"g":5,"s":"a","c":"b","t":5.4,"p":0.35},{"g":5,"s":"a","c":"b","t":5.6,"p":0.3},{"g":5,"s":"a","c":"b","t":5.8,"p":0.45},{"g":5,"s":"a","c":"b","t":5.9,"p":0.6},{"g":5,"s":"a","c":"b","t":6.0,"p":0.6},{"g":5,"s":"a","c":"b","t":6.1,"p":0.55},{"g":5,"s":"a","c":"b","t":6.2,"p":0.35},{"g":5,"s":"a","c":"b","t":6.3,"p":0.2},{"g":5,"s":"a","c":"b","t":6.5,"p":0.1},{"g":5,"s":"a","c":"b","t":6.7,"p":0.0},
{"g":5,"s":"b","c":"b","t":4.8,"p":0.0},{"g":5,"s":"b","c":"b","t":5.0,"p":0.15},{"g":5,"s":"b","c":"b","t":5.1,"p":0.4},{"g":5,"s":"b","c":"b","t":5.2,"p":0.45},{"g":5,"s":"b","c":"b","t":5.3,"p":0.43},{"g":5,"s":"b","c":"b","t":5.5,"p":0.4},{"g":5,"s":"b","c":"b","t":5.7,"p":0.42},{"g":5,"s":"b","c":"b","t":5.8,"p":0.35},{"g":5,"s":"b","c":"b","t":5.9,"p":0.2},{"g":5,"s":"b","c":"b","t":6.1,"p":0.1},{"g":5,"s":"b","c":"b","t":6.3,"p":0.02},
{"g":5,"s":"c","c":"b","t":3.8,"p":0.0},{"g":5,"s":"c","c":"b","t":4.1,"p":0.05},{"g":5,"s":"c","c":"b","t":4.3,"p":0.1},{"g":5,"s":"c","c":"b","t":4.6,"p":0.08},{"g":5,"s":"c","c":"b","t":4.9,"p":0.12},{"g":5,"s":"c","c":"b","t":5.2,"p":0.2},{"g":5,"s":"c","c":"b","t":5.5,"p":0.3},{"g":5,"s":"c","c":"b","t":5.7,"p":0.25},{"g":5,"s":"c","c":"b","t":5.9,"p":0.15},{"g":5,"s":"c","c":"b","t":6.0,"p":0.05},{"g":5,"s":"c","c":"b","t":6.2,"p":0.0},
{"g":5,"s":"r1","c":"r","t":3.3,"p":0.0},{"g":5,"s":"r1","c":"r","t":3.8,"p":0.03},{"g":5,"s":"r1","c":"r","t":4.2,"p":0.06},{"g":5,"s":"r1","c":"r","t":4.5,"p":0.1},{"g":5,"s":"r1","c":"r","t":4.55,"p":0.45},{"g":5,"s":"r1","c":"r","t":4.6,"p":0.1},{"g":5,"s":"r1","c":"r","t":4.65,"p":0.44},{"g":5,"s":"r1","c":"r","t":4.7,"p":0.05},{"g":5,"s":"r1","c":"r","t":4.9,"p":0.1},{"g":5,"s":"r1","c":"r","t":5.1,"p":0.15},{"g":5,"s":"r1","c":"r","t":5.3,"p":0.2},{"g":5,"s":"r1","c":"r","t":5.5,"p":0.25},{"g":5,"s":"r1","c":"r","t":5.7,"p":0.35},{"g":5,"s":"r1","c":"r","t":5.8,"p":0.4},{"g":5,"s":"r1","c":"r","t":5.9,"p":0.3},{"g":5,"s":"r1","c":"r","t":6.0,"p":0.25},{"g":5,"s":"r1","c":"r","t":6.2,"p":0.2},{"g":5,"s":"r1","c":"r","t":6.4,"p":0.25},{"g":5,"s":"r1","c":"r","t":6.5,"p":0.2},{"g":5,"s":"r1","c":"r","t":6.6,"p":0.12},{"g":5,"s":"r1","c":"r","t":6.8,"p":0.05},{"g":5,"s":"r1","c":"r","t":7.0,"p":0.08},{"g":5,"s":"r1","c":"r","t":7.1,"p":0.12},
{"g":5,"s":"r2","c":"r","t":4.0,"p":0.0},{"g":5,"s":"r2","c":"r","t":4.4,"p":0.05},{"g":5,"s":"r2","c":"r","t":4.8,"p":0.1},{"g":5,"s":"r2","c":"r","t":5.2,"p":0.12},{"g":5,"s":"r2","c":"r","t":5.6,"p":0.3},{"g":5,"s":"r2","c":"r","t":5.8,"p":0.25},{"g":5,"s":"r2","c":"r","t":6.0,"p":0.35},{"g":5,"s":"r2","c":"r","t":6.2,"p":0.25},{"g":5,"s":"r2","c":"r","t":6.4,"p":0.1},{"g":5,"s":"r2","c":"r","t":6.6,"p":0.05},{"g":5,"s":"r2","c":"r","t":6.8,"p":0.0},

{"g":6,"s":"a","c":"b","t":3.0,"p":0.0},{"g":6,"s":"a","c":"b","t":3.1,"p":0.05},{"g":6,"s":"a","c":"b","t":3.2,"p":0.2},{"g":6,"s":"a","c":"b","t":3.3,"p":0.4},{"g":6,"s":"a","c":"b","t":3.4,"p":0.5},{"g":6,"s":"a","c":"b","t":3.5,"p":0.45},{"g":6,"s":"a","c":"b","t":3.55,"p":0.6},{"g":6,"s":"a","c":"b","t":3.6,"p":0.68},{"g":6,"s":"a","c":"b","t":3.7,"p":0.6},{"g":6,"s":"a","c":"b","t":3.75,"p":0.75},{"g":6,"s":"a","c":"b","t":3.8,"p":0.8},{"g":6,"s":"a","c":"b","t":3.85,"p":0.65},{"g":6,"s":"a","c":"b","t":3.9,"p":0.8},{"g":6,"s":"a","c":"b","t":4.0,"p":0.6},{"g":6,"s":"a","c":"b","t":4.1,"p":0.5},{"g":6,"s":"a","c":"b","t":4.2,"p":0.45},{"g":6,"s":"a","c":"b","t":4.3,"p":0.72},{"g":6,"s":"a","c":"b","t":4.4,"p":0.7},{"g":6,"s":"a","c":"b","t":4.5,"p":0.55},{"g":6,"s":"a","c":"b","t":4.6,"p":0.45},{"g":6,"s":"a","c":"b","t":4.7,"p":0.35},{"g":6,"s":"a","c":"b","t":4.8,"p":0.25},{"g":6,"s":"a","c":"b","t":4.9,"p":0.1},{"g":6,"s":"a","c":"b","t":5.0,"p":0.0},
{"g":6,"s":"b","c":"b","t":3.2,"p":0.0},{"g":6,"s":"b","c":"b","t":3.3,"p":0.3},{"g":6,"s":"b","c":"b","t":3.4,"p":0.35},{"g":6,"s":"b","c":"b","t":3.5,"p":0.4},{"g":6,"s":"b","c":"b","t":3.6,"p":0.0},{"g":6,"s":"b","c":"b","t":3.7,"p":0.3},{"g":6,"s":"b","c":"b","t":3.8,"p":0.45},{"g":6,"s":"b","c":"b","t":3.9,"p":0.5},{"g":6,"s":"b","c":"b","t":4.0,"p":0.4},{"g":6,"s":"b","c":"b","t":4.1,"p":0.45},{"g":6,"s":"b","c":"b","t":4.2,"p":0.4},{"g":6,"s":"b","c":"b","t":4.3,"p":0.42},{"g":6,"s":"b","c":"b","t":4.4,"p":0.5},{"g":6,"s":"b","c":"b","t":4.5,"p":0.45},{"g":6,"s":"b","c":"b","t":4.6,"p":0.4},{"g":6,"s":"b","c":"b","t":4.7,"p":0.3},{"g":6,"s":"b","c":"b","t":4.8,"p":0.2},{"g":6,"s":"b","c":"b","t":4.9,"p":0.0},
{"g":6,"s":"r1","c":"r","t":3.3,"p":0.05},{"g":6,"s":"r1","c":"r","t":3.4,"p":0.3},{"g":6,"s":"r1","c":"r","t":3.5,"p":0.25},{"g":6,"s":"r1","c":"r","t":3.6,"p":0.3},{"g":6,"s":"r1","c":"r","t":3.7,"p":0.35},{"g":6,"s":"r1","c":"r","t":3.8,"p":0.3},{"g":6,"s":"r1","c":"r","t":4.0,"p":0.45},{"g":6,"s":"r1","c":"r","t":4.2,"p":0.55},{"g":6,"s":"r1","c":"r","t":4.4,"p":0.6},{"g":6,"s":"r1","c":"r","t":4.6,"p":0.55},{"g":6,"s":"r1","c":"r","t":4.8,"p":0.3},{"g":6,"s":"r1","c":"r","t":5.0,"p":0.05},{"g":6,"s":"r1","c":"r","t":5.2,"p":0.0}
],
"M": [
{"g":1,"c":"b","t":0.8,"p":0},{"g":1,"c":"b","t":0.9,"p":0},{"g":1,"c":"b","t":1.0,"p":0},{"g":1,"c":"b","t":1.1,"p":0},{"g":1,"c":"b","t":1.2,"p":0},{"g":1,"c":"b","t":1.3,"p":0},{"g":1,"c":"b","t":1.4,"p":0},{"g":1,"c":"b","t":1.5,"p":0},{"g":1,"c":"b","t":1.6,"p":0},{"g":1,"c":"b","t":1.7,"p":0.01},{"g":1,"c":"b","t":1.8,"p":0.05},{"g":1,"c":"b","t":1.9,"p":0.13},{"g":1,"c":"b","t":2.0,"p":0.15},{"g":1,"c":"b","t":2.1,"p":0.09},{"g":1,"c":"b","t":2.2,"p":0.1},{"g":1,"c":"b","t":2.3,"p":0.14},{"g":1,"c":"b","t":2.4,"p":0.19},{"g":1,"c":"b","t":2.5,"p":0.16},{"g":1,"c":"b","t":2.6,"p":0.21},{"g":1,"c":"b","t":2.7,"p":0.32},{"g":1,"c":"b","t":2.8,"p":0.14},{"g":1,"c":"b","t":2.9,"p":0.1},{"g":1,"c":"b","t":3.0,"p":0.2},{"g":1,"c":"b","t":3.1,"p":0.25},{"g":1,"c":"b","t":3.2,"p":0.16},{"g":1,"c":"b","t":3.3,"p":0.12},{"g":1,"c":"b","t":3.4,"p":0.1},{"g":1,"c":"b","t":3.5,"p":0.08},{"g":1,"c":"b","t":3.6,"p":0.07},{"g":1,"c":"b","t":3.7,"p":0.05},{"g":1,"c":"b","t":3.8,"p":0.03},{"g":1,"c":"b","t":3.9,"p":0.04},{"g":1,"c":"b","t":4.0,"p":0.02},{"g":1,"c":"b","t":4.1,"p":0.03},{"g":1,"c":"b","t":4.2,"p":0.01},{"g":1,"c":"b","t":4.35,"p":0.03},{"g":1,"c":"b","t":4.5,"p":0.1},{"g":1,"c":"b","t":4.6,"p":0.12},{"g":1,"c":"b","t":4.7,"p":0.15},{"g":1,"c":"b","t":4.8,"p":0.2},{"g":1,"c":"b","t":4.9,"p":0.26},{"g":1,"c":"b","t":5.0,"p":0.24},{"g":1,"c":"b","t":5.1,"p":0.28},{"g":1,"c":"b","t":5.2,"p":0.3},{"g":1,"c":"b","t":5.3,"p":0.27},{"g":1,"c":"b","t":5.43,"p":0.4},{"g":1,"c":"b","t":5.5,"p":0.3},{"g":1,"c":"b","t":5.6,"p":0.22},{"g":1,"c":"b","t":5.7,"p":0.25},{"g":1,"c":"b","t":5.8,"p":0.29},{"g":1,"c":"b","t":5.9,"p":0.28},{"g":1,"c":"b","t":6.0,"p":0.32},{"g":1,"c":"b","t":6.1,"p":0.35},{"g":1,"c":"b","t":6.2,"p":0.37},{"g":1,"c":"b","t":6.3,"p":0.42},{"g":1,"c":"b","t":6.4,"p":0.44},{"g":1,"c":"b","t":6.5,"p":0.45},{"g":1,"c":"b","t":6.58,"p":0.47},{"g":1,"c":"b","t":6.65,"p":0.41},{"g":1,"c":"b","t":6.73,"p":0.23},
{"g":2,"c":"r","t":0.4,"p":0},{"g":2,"c":"r","t":0.5,"p":0},{"g":2,"c":"r","t":0.6,"p":0},{"g":2,"c":"r","t":0.7,"p":0},{"g":2,"c":"r","t":0.8,"p":0},{"g":2,"c":"r","t":0.9,"p":0},{"g":2,"c":"r","t":1.0,"p":0},{"g":2,"c":"r","t":1.1,"p":0},{"g":2,"c":"r","t":1.2,"p":0},{"g":2,"c":"r","t":1.3,"p":0},{"g":2,"c":"r","t":1.46,"p":0.11},{"g":2,"c":"r","t":1.6,"p":0},{"g":2,"c":"r","t":1.7,"p":0},{"g":2,"c":"r","t":1.8,"p":0},{"g":2,"c":"r","t":1.9,"p":0},{"g":2,"c":"r","t":2.0,"p":0},{"g":2,"c":"r","t":2.1,"p":0},{"g":2,"c":"r","t":2.2,"p":0},{"g":2,"c":"r","t":2.3,"p":0},{"g":2,"c":"r","t":2.45,"p":0.05},{"g":2,"c":"r","t":2.55,"p":0.17},{"g":2,"c":"r","t":2.65,"p":0.26},{"g":2,"c":"r","t":2.75,"p":0.25},{"g":2,"c":"r","t":2.85,"p":0.3},{"g":2,"c":"r","t":2.95,"p":0.29},{"g":2,"c":"r","t":3.05,"p":0.24},{"g":2,"c":"r","t":3.15,"p":0.28},{"g":2,"c":"r","t":3.3,"p":0.3},{"g":2,"c":"r","t":3.4,"p":0.38},{"g":2,"c":"r","t":3.5,"p":0.41},{"g":2,"c":"r","t":3.6,"p":0.45},{"g":2,"c":"r","t":3.7,"p":0.52},{"g":2,"c":"r","t":3.8,"p":0.54},{"g":2,"c":"r","t":3.9,"p":0.57},{"g":2,"c":"r","t":4.0,"p":0.59},{"g":2,"c":"r","t":4.1,"p":0.62},{"g":2,"c":"r","t":4.2,"p":0.68},{"g":2,"c":"r","t":4.3,"p":0.74},{"g":2,"c":"r","t":4.4,"p":0.86},{"g":2,"c":"r","t":4.47,"p":0.88},{"g":2,"c":"r","t":4.52,"p":0.8},{"g":2,"c":"r","t":4.57,"p":0.75},{"g":2,"c":"r","t":4.65,"p":0.65},{"g":2,"c":"r","t":4.75,"p":0.55},{"g":2,"c":"r","t":4.8,"p":0.42},{"g":2,"c":"r","t":4.85,"p":0.31},{"g":2,"c":"r","t":4.9,"p":0.22},{"g":2,"c":"r","t":4.95,"p":0.0},{"g":2,"c":"r","t":5.2,"p":0.03},
{"g":3,"c":"b","t":2.3,"p":0},{"g":3,"c":"b","t":2.45,"p":0},{"g":3,"c":"b","t":2.6,"p":0},{"g":3,"c":"b","t":3.5,"p":0.0},{"g":3,"c":"b","t":3.6,"p":0.02},{"g":3,"c":"b","t":3.7,"p":0.03},{"g":3,"c":"b","t":3.8,"p":0.04},{"g":3,"c":"b","t":3.9,"p":0.05},{"g":3,"c":"b","t":4.0,"p":0.06},{"g":3,"c":"b","t":4.1,"p":0.05},{"g":3,"c":"b","t":4.2,"p":0.07},{"g":3,"c":"b","t":4.3,"p":0.06},{"g":3,"c":"b","t":4.4,"p":0.08},{"g":3,"c":"b","t":4.5,"p":0.09},{"g":3,"c":"b","t":4.6,"p":0.1},{"g":3,"c":"b","t":4.7,"p":0.12},{"g":3,"c":"b","t":4.8,"p":0.13},{"g":3,"c":"b","t":4.9,"p":0.14},{"g":3,"c":"b","t":5.0,"p":0.15},{"g":3,"c":"b","t":5.05,"p":0.1},{"g":3,"c":"b","t":5.1,"p":0.16},{"g":3,"c":"b","t":5.2,"p":0.18},{"g":3,"c":"b","t":5.3,"p":0.2},{"g":3,"c":"b","t":5.4,"p":0.17},{"g":3,"c":"b","t":5.5,"p":0.14},{"g":3,"c":"b","t":5.6,"p":0.12},{"g":3,"c":"b","t":5.7,"p":0.1},{"g":3,"c":"b","t":5.8,"p":0.07},{"g":3,"c":"b","t":5.9,"p":0.04},{"g":3,"c":"b","t":6.0,"p":0.02},{"g":3,"c":"b","t":6.1,"p":0.0},{"g":3,"c":"b","t":8.3,"p":0},
{"g":4,"c":"b","t":2.65,"p":0},{"g":4,"c":"b","t":2.75,"p":0},{"g":4,"c":"b","t":2.85,"p":0},{"g":4,"c":"b","t":2.95,"p":0},{"g":4,"c":"b","t":3.05,"p":0},{"g":4,"c":"b","t":3.15,"p":0},{"g":4,"c":"b","t":4.7,"p":0.15},{"g":4,"c":"b","t":4.75,"p":0.19},{"g":4,"c":"b","t":4.85,"p":0.19},{"g":4,"c":"b","t":4.95,"p":0.2},{"g":4,"c":"b","t":5.05,"p":0.21},{"g":4,"c":"b","t":5.15,"p":0.19},{"g":4,"c":"b","t":5.25,"p":0.18},{"g":4,"c":"b","t":5.35,"p":0.16},{"g":4,"c":"b","t":5.45,"p":0.17},{"g":4,"c":"b","t":5.55,"p":0.2},{"g":4,"c":"b","t":5.6,"p":0.24},{"g":4,"c":"b","t":5.65,"p":0.27},{"g":4,"c":"b","t":5.7,"p":0.3},{"g":4,"c":"b","t":5.75,"p":0.32},{"g":4,"c":"b","t":5.8,"p":0.35},{"g":4,"c":"b","t":5.85,"p":0.36},{"g":4,"c":"b","t":5.9,"p":0.38},{"g":4,"c":"b","t":5.95,"p":0.39},{"g":4,"c":"b","t":6.0,"p":0.4},{"g":4,"c":"b","t":6.05,"p":0.42},{"g":4,"c":"b","t":6.1,"p":0.43},{"g":4,"c":"b","t":6.15,"p":0.44},{"g":4,"c":"b","t":6.25,"p":0.45},{"g":4,"c":"b","t":6.35,"p":0.46},{"g":4,"c":"b","t":6.45,"p":0.47},{"g":4,"c":"b","t":6.48,"p":0.4},{"g":4,"c":"b","t":6.55,"p":0.33},{"g":4,"c":"b","t":6.62,"p":0.25},{"g":4,"c":"b","t":6.7,"p":0.18},{"g":4,"c":"b","t":6.85,"p":0.0},{"g":4,"c":"b","t":6.92,"p":0.0},
{"g":5,"c":"b","t":1.0,"p":0},{"g":5,"c":"b","t":1.05,"p":0},{"g":5,"c":"b","t":4.15,"p":0.08},{"g":5,"c":"b","t":4.25,"p":0.09},{"g":5,"c":"b","t":4.35,"p":0.08},{"g":5,"c":"b","t":4.45,"p":0.06},{"g":5,"c":"b","t":4.55,"p":0.05},{"g":5,"c":"b","t":4.65,"p":0.06},{"g":5,"c":"b","t":4.75,"p":0.04},{"g":5,"c":"b","t":4.85,"p":0.05},{"g":5,"c":"b","t":4.95,"p":0.08},{"g":5,"c":"b","t":5.0,"p":0.11},{"g":5,"c":"b","t":5.05,"p":0.14},{"g":5,"c":"b","t":5.1,"p":0.17},{"g":5,"c":"b","t":5.15,"p":0.2},{"g":5,"c":"b","t":5.25,"p":0.19},{"g":5,"c":"b","t":5.35,"p":0.22},{"g":5,"c":"b","t":5.45,"p":0.25},{"g":5,"c":"b","t":5.55,"p":0.27},{"g":5,"c":"b","t":5.65,"p":0.3},{"g":5,"c":"b","t":5.75,"p":0.33},{"g":5,"c":"b","t":5.85,"p":0.34},{"g":5,"c":"b","t":5.95,"p":0.4},{"g":5,"c":"b","t":6.0,"p":0.37},{"g":5,"c":"b","t":6.05,"p":0.3},{"g":5,"c":"b","t":6.1,"p":0.27},{"g":5,"c":"b","t":6.2,"p":0.23},{"g":5,"c":"b","t":6.3,"p":0.18},{"g":5,"c":"b","t":6.35,"p":0.14},{"g":5,"c":"b","t":6.4,"p":0.1},{"g":5,"c":"b","t":6.5,"p":0.07},{"g":5,"c":"b","t":6.6,"p":0.03},{"g":5,"c":"b","t":6.7,"p":0.01},
{"g":6,"c":"r","t":2.65,"p":0},{"g":6,"c":"r","t":2.75,"p":0},{"g":6,"c":"r","t":2.85,"p":0},{"g":6,"c":"r","t":2.95,"p":0},{"g":6,"c":"r","t":3.05,"p":0},{"g":6,"c":"r","t":3.2,"p":0.0},{"g":6,"c":"r","t":3.28,"p":0.1},{"g":6,"c":"r","t":3.33,"p":0.2},{"g":6,"c":"r","t":3.37,"p":0.31},{"g":6,"c":"r","t":3.45,"p":0.21},{"g":6,"c":"r","t":3.55,"p":0.07},{"g":6,"c":"r","t":3.6,"p":0.35},{"g":6,"c":"r","t":3.67,"p":0.38},{"g":6,"c":"r","t":3.72,"p":0.32},{"g":6,"c":"r","t":3.8,"p":0.39},{"g":6,"c":"r","t":3.87,"p":0.09},{"g":6,"c":"r","t":3.9,"p":0.3},{"g":6,"c":"r","t":3.95,"p":0.26},{"g":6,"c":"r","t":4.04,"p":0.52},{"g":6,"c":"r","t":4.12,"p":0.53},{"g":6,"c":"r","t":4.18,"p":0.55},{"g":6,"c":"r","t":4.22,"p":0.46},{"g":6,"c":"r","t":4.3,"p":0.64},{"g":6,"c":"r","t":4.37,"p":0.69},{"g":6,"c":"r","t":4.43,"p":0.5},{"g":6,"c":"r","t":4.52,"p":0.48},{"g":6,"c":"r","t":4.62,"p":0.63},{"g":6,"c":"r","t":4.67,"p":0.62},{"g":6,"c":"r","t":4.72,"p":0.44},{"g":6,"c":"r","t":4.81,"p":0.38},{"g":6,"c":"r","t":4.85,"p":0.27},{"g":6,"c":"r","t":4.89,"p":0.24},{"g":6,"c":"r","t":4.97,"p":0.1},{"g":6,"c":"r","t":5.03,"p":0.02},{"g":6,"c":"r","t":6.35,"p":0}
]
},
"columns": 2,
"spacing": {"row": 80, "column": 55},
"bounds": "flush",
"concat": [
{"title": "Cluster 1 - 18.6%(24/129)", "width": 269, "height": 100,
 "layer": [
  {"data": {"name": "L"}, "transform": [{"filter": "datum.g == 1"}], "mark": {"type": "line", "strokeWidth": 1.1, "clip": true},
   "encoding": {"x": {"field": "t", "type": "quantitative", "scale": {"domain": [-2, 10], "nice": false, "zero": false}, "axis": {"orient": "bottom", "values": [-2, 0, 2, 4, 6, 8, 10], "format": "d", "title": "Time (s)"}},
    "y": {"field": "p", "type": "quantitative", "scale": {"domain": [0, 1], "nice": false}, "axis": {"orient": "left", "values": [0, 0.2, 0.4, 0.6, 0.8, 1], "format": ".1f", "title": "PoC"}},
    "color": {"field": "c", "type": "nominal", "scale": {"domain": ["b", "r"], "range": ["#0000ff", "#ff0000"]}, "legend": null}, "detail": {"field": "s"}}},
  {"data": {"name": "M"}, "transform": [{"filter": "datum.g == 1"}], "mark": {"type": "line", "strokeWidth": 1.1, "clip": true},
   "encoding": {"x": {"field": "t", "type": "quantitative", "axis": {"orient": "top", "values": [-2, 0, 2, 4, 6, 8, 10], "labels": false, "title": null}},
    "y": {"field": "p", "type": "quantitative", "axis": {"orient": "right", "values": [0, 0.2, 0.4, 0.6, 0.8, 1], "labels": false, "title": null}},
    "color": {"field": "c", "type": "nominal", "legend": null}}},
  {"data": {"name": "M"}, "transform": [{"filter": "datum.g == 1"}], "mark": {"type": "circle", "size": 95, "opacity": 1, "stroke": "black", "strokeWidth": 1, "clip": true},
   "encoding": {"x": {"field": "t", "type": "quantitative", "axis": null}, "y": {"field": "p", "type": "quantitative", "axis": null},
    "color": {"field": "c", "type": "nominal", "legend": null}}}
 ],
 "resolve": {"axis": {"x": "independent", "y": "independent"}}},
{"title": "Cluster 2 - 45.3%(34/75)", "width": 269, "height": 100,
 "layer": [
  {"data": {"name": "L"}, "transform": [{"filter": "datum.g == 2"}], "mark": {"type": "line", "strokeWidth": 1.1, "clip": true},
   "encoding": {"x": {"field": "t", "type": "quantitative", "scale": {"domain": [-2, 10], "nice": false, "zero": false}, "axis": {"orient": "bottom", "values": [-2, 0, 2, 4, 6, 8, 10], "format": "d", "title": "Time (s)"}},
    "y": {"field": "p", "type": "quantitative", "scale": {"domain": [0, 1], "nice": false}, "axis": {"orient": "left", "values": [0, 0.2, 0.4, 0.6, 0.8, 1], "format": ".1f", "title": "PoC"}},
    "color": {"field": "c", "type": "nominal", "scale": {"domain": ["b", "r"], "range": ["#0000ff", "#ff0000"]}, "legend": null}, "detail": {"field": "s"}}},
  {"data": {"name": "M"}, "transform": [{"filter": "datum.g == 2"}], "mark": {"type": "line", "strokeWidth": 1.1, "clip": true},
   "encoding": {"x": {"field": "t", "type": "quantitative", "axis": {"orient": "top", "values": [-2, 0, 2, 4, 6, 8, 10], "labels": false, "title": null}},
    "y": {"field": "p", "type": "quantitative", "axis": {"orient": "right", "values": [0, 0.2, 0.4, 0.6, 0.8, 1], "labels": false, "title": null}},
    "color": {"field": "c", "type": "nominal", "legend": null}}},
  {"data": {"name": "M"}, "transform": [{"filter": "datum.g == 2"}], "mark": {"type": "circle", "size": 95, "opacity": 1, "stroke": "black", "strokeWidth": 1, "clip": true},
   "encoding": {"x": {"field": "t", "type": "quantitative", "axis": null}, "y": {"field": "p", "type": "quantitative", "axis": null},
    "color": {"field": "c", "type": "nominal", "legend": null}}}
 ],
 "resolve": {"axis": {"x": "independent", "y": "independent"}}},
{"title": "Cluster 3 - 18.2%(2/11)", "width": 269, "height": 100,
 "layer": [
  {"data": {"name": "L"}, "transform": [{"filter": "datum.g == 3"}], "mark": {"type": "line", "strokeWidth": 1.1, "clip": true},
   "encoding": {"x": {"field": "t", "type": "quantitative", "scale": {"domain": [-2, 10], "nice": false, "zero": false}, "axis": {"orient": "bottom", "values": [-2, 0, 2, 4, 6, 8, 10], "format": "d", "title": "Time (s)"}},
    "y": {"field": "p", "type": "quantitative", "scale": {"domain": [0, 1], "nice": false}, "axis": {"orient": "left", "values": [0, 0.2, 0.4, 0.6, 0.8, 1], "format": ".1f", "title": "PoC"}},
    "color": {"field": "c", "type": "nominal", "scale": {"domain": ["b", "r"], "range": ["#0000ff", "#ff0000"]}, "legend": null}, "detail": {"field": "s"}}},
  {"data": {"name": "M"}, "transform": [{"filter": "datum.g == 3"}], "mark": {"type": "line", "strokeWidth": 1.1, "clip": true},
   "encoding": {"x": {"field": "t", "type": "quantitative", "axis": {"orient": "top", "values": [-2, 0, 2, 4, 6, 8, 10], "labels": false, "title": null}},
    "y": {"field": "p", "type": "quantitative", "axis": {"orient": "right", "values": [0, 0.2, 0.4, 0.6, 0.8, 1], "labels": false, "title": null}},
    "color": {"field": "c", "type": "nominal", "legend": null}}},
  {"data": {"name": "M"}, "transform": [{"filter": "datum.g == 3"}], "mark": {"type": "circle", "size": 95, "opacity": 1, "stroke": "black", "strokeWidth": 1, "clip": true},
   "encoding": {"x": {"field": "t", "type": "quantitative", "axis": null}, "y": {"field": "p", "type": "quantitative", "axis": null},
    "color": {"field": "c", "type": "nominal", "legend": null}}}
 ],
 "resolve": {"axis": {"x": "independent", "y": "independent"}}},
{"title": "Cluster 4 - 0.0%(0/5)", "width": 269, "height": 100,
 "layer": [
  {"data": {"name": "L"}, "transform": [{"filter": "datum.g == 4"}], "mark": {"type": "line", "strokeWidth": 1.1, "clip": true},
   "encoding": {"x": {"field": "t", "type": "quantitative", "scale": {"domain": [-2, 10], "nice": false, "zero": false}, "axis": {"orient": "bottom", "values": [-2, 0, 2, 4, 6, 8, 10], "format": "d", "title": "Time (s)"}},
    "y": {"field": "p", "type": "quantitative", "scale": {"domain": [0, 1], "nice": false}, "axis": {"orient": "left", "values": [0, 0.2, 0.4, 0.6, 0.8, 1], "format": ".1f", "title": "PoC"}},
    "color": {"field": "c", "type": "nominal", "scale": {"domain": ["b", "r"], "range": ["#0000ff", "#ff0000"]}, "legend": null}, "detail": {"field": "s"}}},
  {"data": {"name": "M"}, "transform": [{"filter": "datum.g == 4"}], "mark": {"type": "line", "strokeWidth": 1.1, "clip": true},
   "encoding": {"x": {"field": "t", "type": "quantitative", "axis": {"orient": "top", "values": [-2, 0, 2, 4, 6, 8, 10], "labels": false, "title": null}},
    "y": {"field": "p", "type": "quantitative", "axis": {"orient": "right", "values": [0, 0.2, 0.4, 0.6, 0.8, 1], "labels": false, "title": null}},
    "color": {"field": "c", "type": "nominal", "legend": null}}},
  {"data": {"name": "M"}, "transform": [{"filter": "datum.g == 4"}], "mark": {"type": "circle", "size": 95, "opacity": 1, "stroke": "black", "strokeWidth": 1, "clip": true},
   "encoding": {"x": {"field": "t", "type": "quantitative", "axis": null}, "y": {"field": "p", "type": "quantitative", "axis": null},
    "color": {"field": "c", "type": "nominal", "legend": null}}}
 ],
 "resolve": {"axis": {"x": "independent", "y": "independent"}}},
{"title": "Cluster 5 - 18.2%(2/11)", "width": 269, "height": 100,
 "layer": [
  {"data": {"name": "L"}, "transform": [{"filter": "datum.g == 5"}], "mark": {"type": "line", "strokeWidth": 1.1, "clip": true},
   "encoding": {"x": {"field": "t", "type": "quantitative", "scale": {"domain": [-2, 10], "nice": false, "zero": false}, "axis": {"orient": "bottom", "values": [-2, 0, 2, 4, 6, 8, 10], "format": "d", "title": "Time (s)"}},
    "y": {"field": "p", "type": "quantitative", "scale": {"domain": [0, 1], "nice": false}, "axis": {"orient": "left", "values": [0, 0.2, 0.4, 0.6, 0.8, 1], "format": ".1f", "title": "PoC"}},
    "color": {"field": "c", "type": "nominal", "scale": {"domain": ["b", "r"], "range": ["#0000ff", "#ff0000"]}, "legend": null}, "detail": {"field": "s"}}},
  {"data": {"name": "M"}, "transform": [{"filter": "datum.g == 5"}], "mark": {"type": "line", "strokeWidth": 1.1, "clip": true},
   "encoding": {"x": {"field": "t", "type": "quantitative", "axis": {"orient": "top", "values": [-2, 0, 2, 4, 6, 8, 10], "labels": false, "title": null}},
    "y": {"field": "p", "type": "quantitative", "axis": {"orient": "right", "values": [0, 0.2, 0.4, 0.6, 0.8, 1], "labels": false, "title": null}},
    "color": {"field": "c", "type": "nominal", "legend": null}}},
  {"data": {"name": "M"}, "transform": [{"filter": "datum.g == 5"}], "mark": {"type": "circle", "size": 95, "opacity": 1, "stroke": "black", "strokeWidth": 1, "clip": true},
   "encoding": {"x": {"field": "t", "type": "quantitative", "axis": null}, "y": {"field": "p", "type": "quantitative", "axis": null},
    "color": {"field": "c", "type": "nominal", "legend": null}}}
 ],
 "resolve": {"axis": {"x": "independent", "y": "independent"}}},
{"title": "Cluster 6 - 20.0%(1/5)", "width": 269, "height": 100,
 "layer": [
  {"data": {"name": "L"}, "transform": [{"filter": "datum.g == 6"}], "mark": {"type": "line", "strokeWidth": 1.1, "clip": true},
   "encoding": {"x": {"field": "t", "type": "quantitative", "scale": {"domain": [-2, 10], "nice": false, "zero": false}, "axis": {"orient": "bottom", "values": [-2, 0, 2, 4, 6, 8, 10], "format": "d", "title": "Time (s)"}},
    "y": {"field": "p", "type": "quantitative", "scale": {"domain": [0, 1], "nice": false}, "axis": {"orient": "left", "values": [0, 0.2, 0.4, 0.6, 0.8, 1], "format": ".1f", "title": "PoC"}},
    "color": {"field": "c", "type": "nominal", "scale": {"domain": ["b", "r"], "range": ["#0000ff", "#ff0000"]}, "legend": null}, "detail": {"field": "s"}}},
  {"data": {"name": "M"}, "transform": [{"filter": "datum.g == 6"}], "mark": {"type": "line", "strokeWidth": 1.1, "clip": true},
   "encoding": {"x": {"field": "t", "type": "quantitative", "axis": {"orient": "top", "values": [-2, 0, 2, 4, 6, 8, 10], "labels": false, "title": null}},
    "y": {"field": "p", "type": "quantitative", "axis": {"orient": "right", "values": [0, 0.2, 0.4, 0.6, 0.8, 1], "labels": false, "title": null}},
    "color": {"field": "c", "type": "nominal", "legend": null}}},
  {"data": {"name": "M"}, "transform": [{"filter": "datum.g == 6"}], "mark": {"type": "circle", "size": 95, "opacity": 1, "stroke": "black", "strokeWidth": 1, "clip": true},
   "encoding": {"x": {"field": "t", "type": "quantitative", "axis": null}, "y": {"field": "p", "type": "quantitative", "axis": null},
    "color": {"field": "c", "type": "nominal", "legend": null}}}
 ],
 "resolve": {"axis": {"x": "independent", "y": "independent"}}}
]
}
